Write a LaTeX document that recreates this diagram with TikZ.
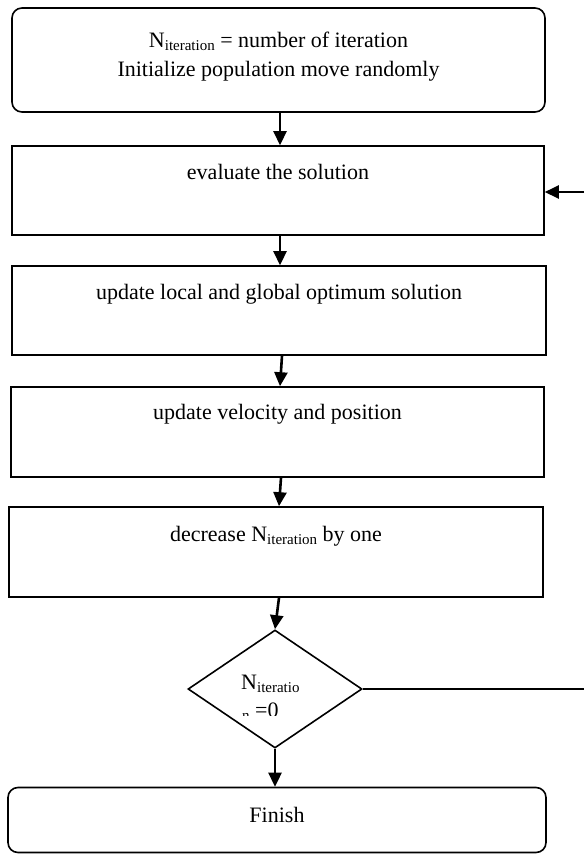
\documentclass[tikz,border=0pt]{standalone}
\usepackage{fontspec}
\setmainfont{Liberation Serif}
\usetikzlibrary{arrows.meta,shapes.geometric}
\newcommand\itsub[1]{\raisebox{-3pt}{\fontsize{15}{15}\selectfont #1}}
\begin{document}
\begin{tikzpicture}[x=1pt,y=-1pt,
  box/.style={draw,line width=1.6pt,inner sep=0pt},
  rbox/.style={box,rounded corners=10pt},
  txt/.style={anchor=base,inner sep=0pt,font=\fontsize{22}{29}\selectfont},
  arr/.style={line width=2.6pt,-{Triangle[width=13pt,length=14pt]}},
  ln/.style={line width=2.6pt}]
\useasboundingbox (0,0) rectangle (584,854);
% boxes
\node[rbox,minimum width=533pt,minimum height=104pt] (b1) at (278.5,60) {};
\node[box,minimum width=532pt,minimum height=89pt] (b2) at (278,190.5) {};
\node[box,minimum width=534pt,minimum height=89pt] (b3) at (279,310.5) {};
\node[box,minimum width=533pt,minimum height=90pt] (b4) at (277.5,432) {};
\node[box,minimum width=534pt,minimum height=90pt] (b5) at (276,552) {};
\node[diamond,draw,line width=1.6pt,inner sep=0pt,minimum width=174pt,minimum height=118pt] (d) at (275,689) {};
\node[rbox,minimum width=538pt,minimum height=65pt] (b6) at (277,820) {};
% texts
\node[txt] (t1a) at (278.5,47) {N\itsub{iteration} = number of iteration};
\node[txt] (t1b) at (278.5,76) {Initialize population move randomly};
\node[txt] (t2) at (278,179) {evaluate the solution};
\node[txt] (t3) at (279,299) {update local and global optimum solution};
\node[txt] (t4) at (277.5,419) {update velocity and position};
\node[txt] (t5) at (276,541) {decrease N\itsub{iteration} by one};
\node[txt] (t6) at (277,822) {Finish};
\begin{scope}
\clip (200,650) rectangle (340,715);
\node[txt,anchor=base west] (dt1) at (241,689) {N\itsub{iteratio}};
\node[txt,anchor=base west] (dt2) at (242,717) {\itsub{n} =0};
\end{scope}
% connectors
\draw[arr] ([xshift=1.5pt]b1.south) -- ([xshift=2pt]b2.north);
\draw[arr] ([xshift=2pt]b2.south) -- ([xshift=1pt]b3.north);
\draw[arr] ([xshift=3pt]b3.south) -- ([xshift=2.5pt]b4.north);
\draw[arr] ([xshift=3.5pt]b4.south) -- ([xshift=3pt]b5.north);
\draw[arr] ([xshift=3pt]b5.south) -- (d.north);
\draw[arr] (d.south) -- ([xshift=-2pt]b6.north);
\coordinate (e1) at (584,689);
\coordinate (e2) at (584,192);
\draw[ln] (d.east) -- (e1);
\draw[arr] (e2) -- (b2.east |- e2);
\end{tikzpicture}
\end{document}
